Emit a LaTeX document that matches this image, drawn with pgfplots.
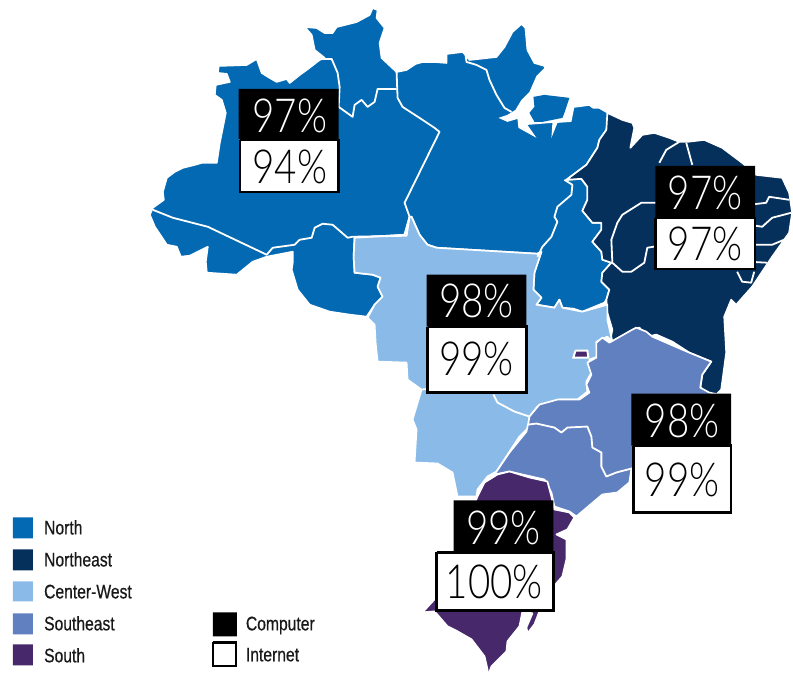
\documentclass[border=0pt]{standalone}
\usepackage{pgfplots}
\pgfplotsset{compat=1.18}
\usepackage{fontspec}
\setmainfont{Liberation Sans}[FakeStretch=0.8,FakeBold=0.6]
\newfontfamily\pct{Lato Light}[FakeStretch=0.82]
\definecolor{north}{RGB}{3,105,178}
\definecolor{neast}{RGB}{6,48,92}
\definecolor{cwest}{RGB}{138,187,232}
\definecolor{seast}{RGB}{96,128,192}
\definecolor{south}{RGB}{71,40,107}
\pgfplotsset{
  region/.style={fill=#1, draw=white, line width=1.7pt, line join=round, no marks, forget plot},
  bline/.style={draw=white, line width=1.8pt, line join=round, no marks, forget plot},
  swatch/.style={fill=#1, draw=none, no marks, forget plot},
  wbox/.style={fill=white, draw=black, line width=2.4pt, no marks, forget plot},
}
\newcommand{\pc}[3]{\node[font=\pct\fontsize{47}{47}\selectfont, text=#3, inner sep=0pt] at (axis cs:#1) {#2};}
\newcommand{\lab}[2]{\node[font=\fontsize{19.6}{20}\selectfont, anchor=base west, inner sep=0pt, text=black!90] at (axis cs:#1) {#2};}
\begin{document}
\begin{tikzpicture}
\begin{axis}[
  width=793pt, height=679pt, scale only axis,
  xmin=0, xmax=793, ymin=0, ymax=679,
  y dir=reverse, hide axis, clip=false,
]
\path (axis cs:0,0) rectangle (axis cs:793,679);
% North
\addplot[region=north] coordinates {
(150,215)(153,208)(164,200)(163,192)(167,178)(175,172)(183,168)(195,165)(202,163)(217,163)(220,143)(226,113)(222,100)(215,95)(216,85)(230,82)(227,74)(218,73)(219,66)(247,65)(257,59)(262,73)(270,78)(277,82)(287,79)(290,83)(300,75)(307,70)(320,60)(325,58)(315,50)(312,35)(305,27)(317,28)(325,33)(333,33)(337,27)(357,22)(370,15)(373,8)(378,10)(377,18)(385,28)(380,43)(382,58)(397,72)(407,70)(416,64)(423,62)(435,62)(447,63)(447,54)(463,52)(466,55)(470,60)(497,57)(505,47)(513,32)(522,24)(526,28)(528,50)(535,63)(545,66)(546,70)(575,107)(590,105)(594,108)(600,108)(607,112)(610,113)(607,130)(600,140)(598,148)(587,165)(567,180)(582,179)(588,187)(588,200)(583,211)(593,223)(602,223)(602,230)(593,242)(602,252)(603,260)(612,263)(603,273)(602,282)(610,290)(607,300)(605,303)(583,312)(574,309)(563,308)(560,300)(555,308)(537,305)(542,298)(534,290)(535,273)(542,252)(538,254)(437,248)(428,245)(420,235)(412,217)(410,217)(405,235)(355,238)(354,257)(355,273)(373,275)(381,278)(378,287)(383,297)(375,305)(367,317)(350,315)(330,312)(310,305)(298,290)(292,270)(293,263)(293,252)(267,257)(253,262)(237,275)(207,273)(206,262)(208,247)(190,256)(181,257)(177,247)(167,245)(155,227)(150,215)
};
% Amazon estuary cut out of the North, then Marajo on top
\addplot[fill=white, draw=none, no marks, forget plot] coordinates {
(546,67)(537,76)(530,92)(522,100)(516,110)(508,115)(499,118)(508,122)(518,119)(519,128)(537,138)(528,125)(553,123)(552,138)(558,123)(572,122)(575,107)(590,80)(546,67)
};
\addplot[fill=north, draw=none, no marks, forget plot] coordinates {
(534,97)(545,95)(570,98)(565,113)(563,118)(543,122)(535,122)(530,113)(535,107)(534,97)
};
% Northeast
\addplot[region=neast] coordinates {
(608,113)(623,120)(633,123)(635,128)(631,148)(643,135)(655,133)(670,138)(680,142)(688,142)(705,140)(723,148)(743,163)(757,175)(783,178)(790,193)(793,213)(790,233)(773,257)(753,287)(737,305)(732,300)(725,317)(727,353)(722,390)(716,396)(708,394)(701,388)(703,375)(712,362)(690,353)(673,342)(657,335)(648,337)(640,328)(630,332)(610,345)(613,330)(608,313)(607,300)(610,290)(602,282)(603,273)(612,263)(603,260)(602,252)(593,242)(602,230)(602,223)(593,223)(583,211)(588,200)(588,187)(582,179)(567,180)(587,165)(598,148)(600,140)(607,130)(608,113)
};
% Center-West
\addplot[region=cwest] coordinates {
(410,217)(405,235)(355,238)(354,257)(355,273)(373,275)(381,278)(378,287)(383,297)(375,305)(368,318)(375,325)(376,343)(378,362)(407,363)(408,380)(422,390)(413,420)(417,430)(415,463)(438,464)(453,473)(458,497)(477,497)(478,490)(488,477)(497,472)(520,437)(530,427)(530,417)(538,407)(560,400)(578,400)(588,392)(587,382)(592,373)(590,360)(598,357)(597,342)(608,337)(613,342)(608,320)(608,305)(583,312)(563,308)(560,300)(555,308)(537,305)(542,298)(534,290)(535,273)(542,252)(538,254)(437,248)(428,245)(420,235)(412,217)(410,217)
};
% Southeast
\addplot[region=seast] coordinates {
(495,475)(510,453)(527,432)(529,423)(530,417)(540,405)(558,400)(580,400)(590,393)(587,385)(592,375)(588,363)(597,358)(597,343)(603,338)(610,343)(633,330)(637,328)(647,332)(653,337)(690,353)(712,362)(703,375)(701,388)(710,393)(725,396)(720,430)(690,470)(632,470)(630,483)(618,493)(603,495)(577,517)(570,512)(555,507)(552,493)(545,480)(523,475)(510,472)(495,475)
};
% South
\addplot[region=south] coordinates {
(478,497)(485,483)(498,475)(510,472)(530,478)(548,482)(552,497)(555,510)(570,513)(575,518)(568,530)(557,535)(567,540)(567,560)(563,577)(550,592)(540,612)(535,625)(528,634)(527,628)(533,614)(523,612)(520,627)(508,642)(507,652)(492,667)(488,678)(488,670)(485,657)(472,640)(458,632)(448,627)(435,612)(423,613)(435,600)(460,540)(478,497)
};
% DF
\addplot[fill=south, draw=white, line width=2pt, no marks, forget plot] coordinates {
(576,351)(588,351)(589,358)(574,358)(576,351)
};
% internal borders
\addplot[bline] coordinates {(153,210)(173,218)(208,227)(267,255)(273,248)(295,245)(300,240)(312,238)(315,228)(323,224)(333,225)(348,238)(353,237)(407,236)(410,217)(405,203)(440,132)(435,128)(423,120)(403,107)(398,98)(397,72)};
\addplot[bline] coordinates {(320,59)(332,59)(338,73)(340,87)(339,107)(353,117)(355,105)(362,100)(368,107)(375,102)(378,89)(397,89)};
\addplot[bline] coordinates {(466,55)(467,62)(477,65)(487,70)(490,80)(497,95)(505,108)(512,112)};
\addplot[bline] coordinates {(565,180)(573,185)(572,195)(558,207)(555,217)(558,222)(552,237)(543,247)(538,257)};
\addplot[bline] coordinates {(680,142)(667,150)(660,163)};
\addplot[bline] coordinates {(687,143)(693,165)};
\addplot[bline] coordinates {(680,203)(657,203)(642,203)(623,215)(618,223)(612,240)(613,263)(623,272)(632,272)(645,263)(648,248)(660,246)};
\addplot[bline] coordinates {(750,205)(767,203)(770,197)(790,200)};
\addplot[bline] coordinates {(750,225)(763,227)(773,218)(792,213)};
\addplot[bline] coordinates {(750,245)(773,245)(792,237)};
\addplot[bline] coordinates {(750,262)(768,263)};
\addplot[bline] coordinates {(738,272)(743,282)(752,283)(755,272)};
\addplot[bline] coordinates {(529,425)(537,424)(555,428)(562,433)(568,428)(588,427)(592,437)(593,448)(602,453)(602,467)(607,477)(617,473)(640,467)};
\addplot[bline] coordinates {(422,390)(440,388)};
\addplot[bline] coordinates {(494,395)(498,403)(515,412)(530,417)};
% percentage boxes
\addplot[swatch=black] coordinates {(239,89)(339,89)(339,139)(239,139)(239,89)};
\addplot[wbox] coordinates {(240,140)(339,140)(339,192)(240,192)(240,140)};
\addplot[swatch=black] coordinates {(656,166)(756,166)(756,217)(656,217)(656,166)};
\addplot[wbox] coordinates {(656,218)(756,218)(756,269)(656,269)(656,218)};
\addplot[swatch=black] coordinates {(427,275)(527,275)(527,327)(427,327)(427,275)};
\addplot[wbox] coordinates {(428,327)(527,327)(527,393)(428,393)(428,327)};
\addplot[swatch=black] coordinates {(632,394)(732,394)(732,446)(632,446)(632,394)};
\addplot[wbox] coordinates {(634,446)(732,446)(732,513)(634,513)(634,446)};
\addplot[swatch=black] coordinates {(454,501)(554,501)(554,553)(454,553)(454,501)};
\addplot[wbox] coordinates {(437,553)(554,553)(554,611)(437,611)(437,553)};
\pc{290,116}{97\%}{white}
\pc{290,167}{94\%}{black}
\pc{706,193}{97\%}{white}
\pc{706,244}{97\%}{black}
\pc{477,301}{98\%}{white}
\pc{477,359}{99\%}{black}
\pc{683,421}{98\%}{white}
\pc{683,480}{99\%}{black}
\pc{504,528}{99\%}{white}
\pc{495,583}{100\%}{black}
% legend
\addplot[swatch=north] coordinates {(13,518)(33,518)(33,539)(13,539)(13,518)};
\addplot[swatch=neast] coordinates {(13,550)(33,550)(33,571)(13,571)(13,550)};
\addplot[swatch=cwest] coordinates {(13,582)(33,582)(33,602)(13,602)(13,582)};
\addplot[swatch=seast] coordinates {(13,614)(33,614)(33,635)(13,635)(13,614)};
\addplot[swatch=south] coordinates {(13,645)(33,645)(33,666)(13,666)(13,645)};
\addplot[swatch=black] coordinates {(213,613)(237,613)(237,637)(213,637)(213,613)};
\addplot[wbox] coordinates {(213,643)(236,643)(236,667)(213,667)(213,643)};
\lab{44,535}{North}
\lab{44,567}{Northeast}
\lab{44,599}{Center-West}
\lab{44,631}{Southeast}
\lab{44,663}{South}
\lab{246,631}{Computer}
\lab{246,662}{Internet}
\end{axis}
\end{tikzpicture}
\end{document}
